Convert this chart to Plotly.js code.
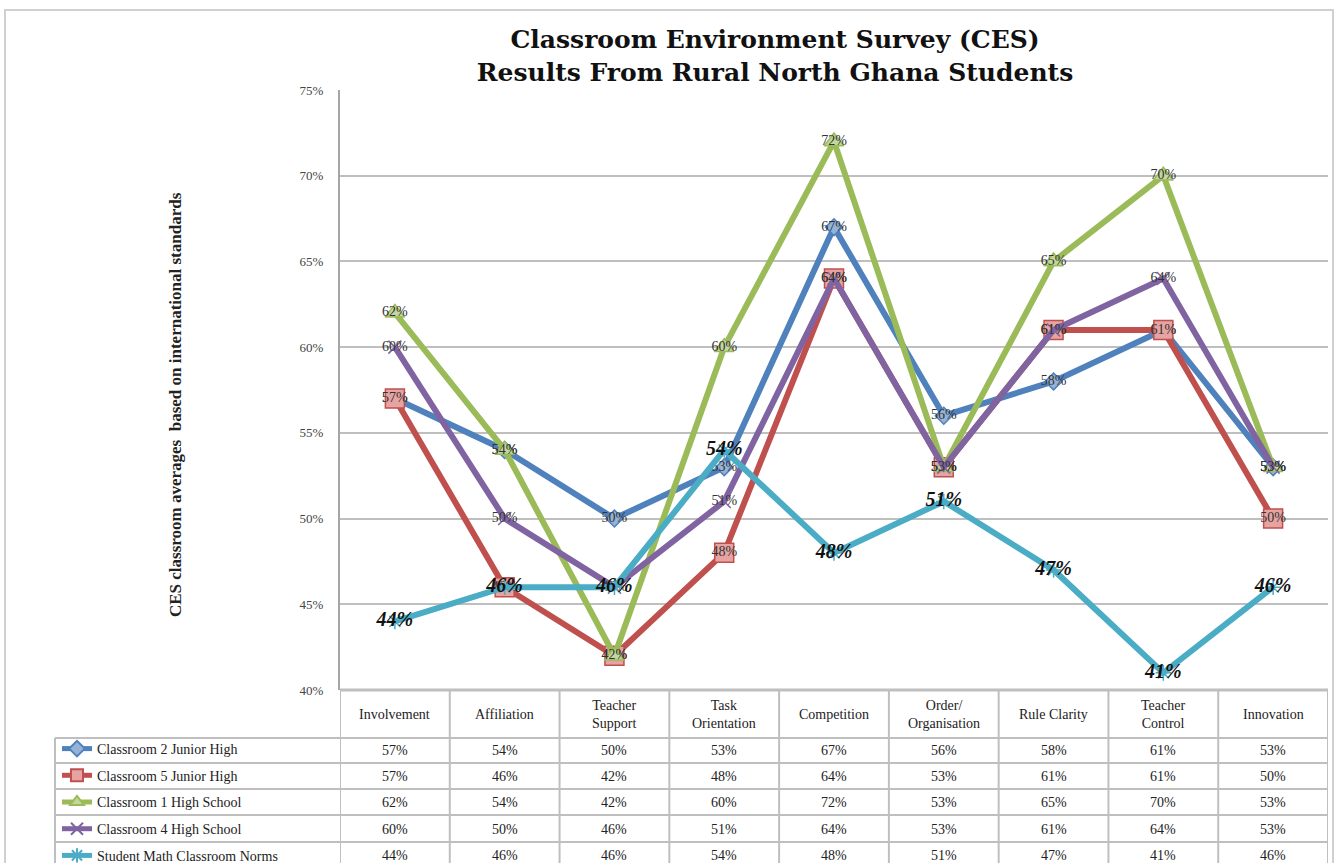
<!DOCTYPE html>
<html>
<head>
<meta charset="utf-8">
<script src="https://cdn.plot.ly/plotly-3.0.1.min.js"></script>
<style>html,body{margin:0;padding:0;background:#fff;}#chart{width:1338px;height:863px;}</style>
</head>
<body>
<div id="chart"></div>
<script>
// ---- data ----
const categories = ['Involvement','Affiliation','Teacher Support','Task Orientation','Competition','Order/ Organisation','Rule Clarity','Teacher Control','Innovation'];
const headerLabels = ['Involvement','Affiliation','Teacher<br>Support','Task<br>Orientation','Competition','Order/<br>Organisation','Rule Clarity','Teacher<br>Control','Innovation'];
const seriesNames = ['Classroom 2 Junior High','Classroom 5 Junior High','Classroom 1 High School','Classroom 4 High School','Student Math Classroom Norms'];
const classroom2JH = [57,54,50,53,67,56,58,61,53];
const classroom5JH = [57,46,42,48,64,53,61,61,50];
const classroom1HS = [62,54,42,60,72,53,65,70,53];
const classroom4HS = [60,50,46,51,64,53,61,64,53];
const studentNorms = [44,46,46,54,48,51,47,41,46];
const yTicks = [40,45,50,55,60,65,70,75];
const yTickLabels = ['40%','45%','50%','55%','60%','65%','70%','75%'];
const chartTitle = 'Classroom Environment Survey (CES)<br>Results From Rural North Ghana Students';
const yTitle = 'CES classroom averages  based on international standards';

// ---- styles ----
const allSeries = [classroom2JH, classroom5JH, classroom1HS, classroom4HS, studentNorms];
const lineColors = ['#4F81BD','#C0504D','#9BBB59','#8064A2','#4BACC6'];
const markerStyles = [
  {symbol:'diamond', size:13, color:'#95B3D7', line:{color:'#4F81BD', width:1.5}},
  {symbol:'square', size:19, color:'#E6A3A1', line:{color:'#C0504D', width:1.5}},
  {symbol:'triangle-up', size:17, color:'#C3D69B', line:{color:'#9BBB59', width:1.5}},
  {symbol:'x-thin-open', size:13, color:'#8064A2', line:{color:'#8064A2', width:1.5}},
  {symbol:'asterisk-open', size:13, color:'#4BACC6', line:{color:'#4BACC6', width:1.5}}
];
const serif = 'Liberation Serif, DejaVu Serif, serif';
const titleFont = 'DejaVu Serif, Liberation Serif, serif';

const W = 1338, H = 863;
const mL = 340, mR = 10, mT = 90, mB = 173;
const plotW = W - mL - mR, plotH = H - mT - mB;
const py = pix => (mT + plotH - pix) / plotH;   // pixel y -> paper y
const px = pix => (pix - mL) / plotW;           // pixel x -> paper x

const traces = allSeries.map((vals, i) => {
  const isNorm = i === 4;
  return {
    type: 'scatter',
    mode: 'lines+markers+text',
    name: seriesNames[i],
    legendgroup: 'g' + i,
    x: categories,
    y: vals,
    text: vals.map(v => v + '%'),
    textposition: 'middle center',
    textfont: isNorm
      ? {family: serif, size: 20, color: '#111', weight: 'bold', style: 'italic'}
      : {family: serif, size: 14, color: '#333'},
    line: {color: lineColors[i], width: 6},
    marker: markerStyles[i],
    hoverinfo: 'x+y'
  };
});

const shapes = [];
const annotations = [];
const gridC = '#BFBFBF';

// table row boundaries (pixels)
const rowTop = [690, 738, 763, 789, 815, 842];
const rowCenters = [750, 776, 802, 829, 855];
rowTop.forEach((r, k) => {
  shapes.push({type:'line', xref:'paper', yref:'paper',
    x0: k === 0 ? 0 : px(55), x1: 1, y0: py(r), y1: py(r),
    line:{color:gridC, width: k === 0 ? 3 : 2}});
});
for (let i = 0; i <= categories.length; i++) {
  shapes.push({type:'line', xref:'x', yref:'paper', x0: i - 0.5, x1: i - 0.5,
    y0: 0, y1: py(870), line:{color:gridC, width:2}});
}
shapes.push({type:'line', xref:'paper', yref:'paper', x0: px(55), x1: px(55),
  y0: py(738), y1: py(870), line:{color:gridC, width:2}});
shapes.push({type:'rect', xref:'paper', yref:'paper', x0: px(5), x1: px(1333),
  y0: py(10), y1: py(880), line:{color:'#D0D0D0', width:2}, layer:'below'});

categories.forEach((c, i) => {
  annotations.push({xref:'x', yref:'paper', x: c, y: py(714), text: headerLabels[i],
    showarrow:false, font:{family:serif, size:14, color:'#222'}, xanchor:'center', yanchor:'middle'});
});
allSeries.forEach((vals, s) => {
  vals.forEach((v, i) => {
    annotations.push({xref:'x', yref:'paper', x: categories[i], y: py(rowCenters[s]), text: v + '%',
      showarrow:false, font:{family:serif, size:14, color:'#222'}, xanchor:'center', yanchor:'middle'});
  });
});
annotations.push({xref:'paper', yref:'paper', x: px(175), y: py(405), text: yTitle, textangle:-90,
  showarrow:false, font:{family:serif, size:17, color:'#222', weight:'bold'}, xanchor:'center', yanchor:'middle'});

const layout = {
  width: W, height: H,
  margin: {l: mL, r: mR, t: mT, b: mB, autoexpand: false},
  paper_bgcolor: '#fff', plot_bgcolor: '#fff',
  title: {text: chartTitle, x: 775 / W, xanchor:'center', xref:'container',
          y: 1 - 48 / H, yanchor:'top', yref:'container',
          font:{family:titleFont, size:25, color:'#111', weight:'bold'}},
  xaxis: {type:'category', range:[-0.5, categories.length - 0.5], showgrid:false, zeroline:false,
          showticklabels:false, showline:false, ticks:'', fixedrange:true},
  yaxis: {range:[40, 75], tickvals: yTicks, ticktext: yTickLabels, showgrid:true, gridcolor: gridC, gridwidth:2,
          zeroline:false, showline:true, linecolor:'#A6A6A6', linewidth:2,
          ticks:'outside', ticklen:12, tickcolor:'rgba(0,0,0,0)',
          tickfont:{family:serif, size:13, color:'#444'}, fixedrange:true},
  showlegend: true,
  legend: {xref:'container', yref:'container', x: 57 / W, xanchor:'left', y: 1 - 733 / H, yanchor:'top',
           traceorder:'grouped', tracegroupgap: 5.5, itemsizing:'constant',
           bgcolor:'rgba(0,0,0,0)', font:{family:serif, size:14, color:'#222'}, itemwidth:30},
  shapes: shapes,
  annotations: annotations
};

Plotly.newPlot('chart', traces, layout, {displayModeBar:false, staticPlot:true});
</script>
</body>
</html>
